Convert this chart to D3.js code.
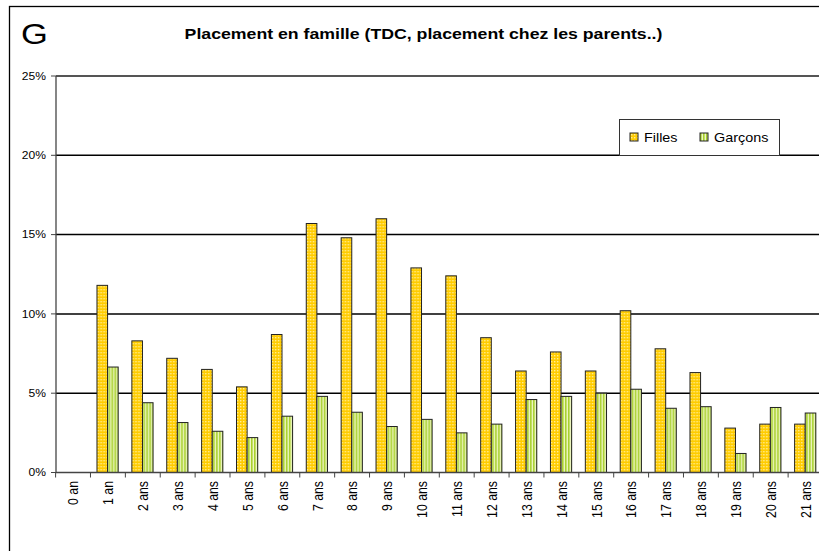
<!DOCTYPE html>
<html>
<head>
<meta charset="utf-8">
<script src="https://cdn.jsdelivr.net/npm/d3@7"></script>
<style>
  body { margin: 0; background: #fff; }
  svg { display: block; font-family: "Liberation Sans", Arial, sans-serif; }
</style>
</head>
<body>
<div id="app"></div>
<script>
// data (percent)
const categories = ['0 an', '1 an', '2 ans', '3 ans', '4 ans', '5 ans', '6 ans', '7 ans', '8 ans', '9 ans', '10 ans',
  '11 ans', '12 ans', '13 ans', '14 ans', '15 ans', '16 ans', '17 ans', '18 ans', '19 ans', '20 ans', '21 ans'];
const filles = [null, 11.8, 8.3, 7.2, 6.5, 5.4, 8.7, 15.7, 14.8, 16.0, 12.9, 12.4, 8.5, 6.4, 7.6, 6.4, 10.2, 7.8, 6.3, 2.8, 3.05, 3.05];
const garcons = [null, 6.65, 4.4, 3.15, 2.6, 2.2, 3.55, 4.8, 3.8, 2.9, 3.35, 2.5, 3.05, 4.6, 4.8, 5.0, 5.25, 4.05, 4.15, 1.2, 4.1, 3.75];
const seriesNames = ['Filles', 'Garçons'];
const yTicks = [0, 5, 10, 15, 20, 25];
const title = 'Placement en famille (TDC, placement chez les parents..)';

const W = 819, H = 551;
const SX = 1.15; // the picture is a bit stretched sideways

const svg = d3.select('#app').append('svg').attr('width', W).attr('height', H);

// patterns
const defs = svg.append('defs');
const pf = defs.append('pattern').attr('id', 'pFilles').attr('patternUnits', 'userSpaceOnUse')
  .attr('width', 3).attr('height', 3);
pf.append('rect').attr('width', 3).attr('height', 3).attr('fill', '#FFCC00');
pf.append('rect').attr('x', 1).attr('y', 1).attr('width', 1.4).attr('height', 1.4).attr('fill', '#FFEE99');

const pg = defs.append('pattern').attr('id', 'pGarcons').attr('patternUnits', 'userSpaceOnUse')
  .attr('width', 3).attr('height', 3);
pg.append('rect').attr('width', 3).attr('height', 3).attr('fill', '#EEF6C4');
pg.append('rect').attr('width', 1.6).attr('height', 3).attr('fill', '#A8D02C');

const fills = { Filles: 'url(#pFilles)', 'Garçons': 'url(#pGarcons)' };

// outer frame (runs off the picture right and bottom)
svg.append('rect').attr('x', 9.5).attr('y', 6.5).attr('width', 900).attr('height', 700)
  .attr('fill', 'none').attr('stroke', '#000').attr('stroke-width', 1.3);

// "G" marker and title
svg.append('text').attr('transform', `translate(21,44) scale(1.15,1)`)
  .attr('font-size', 30).attr('fill', '#000').text('G');

svg.append('text').attr('transform', `translate(423.5,38.5) scale(${SX},1)`)
  .attr('text-anchor', 'middle').attr('font-size', 15.4).attr('font-weight', 'bold').text(title);

// scales
const x = d3.scaleBand().domain(categories).range([55.6, 823]).padding(0);
const xs = d3.scaleBand().domain(seriesNames).range([6.5, 27.7]).padding(0);
const y = d3.scaleLinear().domain([0, 25]).range([472.5, 76]);

// gridlines
svg.append('g').selectAll('line').data(yTicks.filter((d) => d > 0)).join('line')
  .attr('x1', 56).attr('x2', W)
  .attr('y1', (d) => y(d)).attr('y2', (d) => y(d))
  .attr('stroke', (d) => (d === 25 ? '#555' : '#000'))
  .attr('stroke-width', (d) => (d === 25 ? 1.8 : 1.5));

// bars
const rows = categories.map((c, i) => ({ cat: c, Filles: filles[i], 'Garçons': garcons[i] }));
svg.append('g').selectAll('g').data(rows).join('g')
  .attr('transform', (d) => `translate(${x(d.cat)},0)`)
  .selectAll('rect')
  .data((d) => seriesNames.filter((s) => d[s] != null).map((s) => ({ s, v: d[s] })))
  .join('rect')
  .attr('x', (d) => xs(d.s))
  .attr('y', (d) => y(d.v))
  .attr('width', xs.bandwidth())
  .attr('height', (d) => y(0) - y(d.v))
  .attr('fill', (d) => fills[d.s])
  .attr('stroke', '#222')
  .attr('stroke-width', 1);

// y axis
const yAxis = svg.append('g');
yAxis.append('line').attr('x1', 56).attr('x2', 56).attr('y1', 76).attr('y2', y(0))
  .attr('stroke', '#444').attr('stroke-width', 1.3);
yAxis.selectAll('line.tick').data(yTicks).join('line').attr('class', 'tick')
  .attr('x1', 51).attr('x2', 56).attr('y1', (d) => y(d)).attr('y2', (d) => y(d))
  .attr('stroke', '#444');
yAxis.selectAll('text').data(yTicks).join('text')
  .attr('transform', (d) => `translate(46,${y(d) + 3.8}) scale(${SX},1)`)
  .attr('text-anchor', 'end').attr('font-size', 10.5).attr('fill', '#000')
  .text((d) => d + '%');

// x axis
const xAxis = svg.append('g');
xAxis.append('line').attr('x1', 56).attr('x2', W).attr('y1', y(0)).attr('y2', y(0))
  .attr('stroke', '#444').attr('stroke-width', 1.3);
xAxis.selectAll('line.tick').data(categories).join('line').attr('class', 'tick')
  .attr('x1', (d) => x(d)).attr('x2', (d) => x(d))
  .attr('y1', y(0)).attr('y2', y(0) + 5)
  .attr('stroke', '#444');
xAxis.selectAll('text').data(categories).join('text')
  .attr('transform', (d) => `translate(${x(d) + x.bandwidth() / 2 + 0.5},481) rotate(-90) scale(1,${SX})`)
  .attr('text-anchor', 'end').attr('dominant-baseline', 'central')
  .attr('font-size', 12.3).attr('fill', '#000')
  .text((d) => d);

// legend
const legend = svg.append('g');
legend.append('rect').attr('x', 619.5).attr('y', 119.5).attr('width', 160).attr('height', 36)
  .attr('fill', '#fff').attr('stroke', '#333').attr('stroke-width', 1);
const lx = { Filles: 630, 'Garçons': 700 };
const items = legend.selectAll('g').data(seriesNames).join('g')
  .attr('transform', (d) => `translate(${lx[d]},133)`);
items.append('rect').attr('width', 8).attr('height', 8)
  .attr('fill', (d) => fills[d]).attr('stroke', '#222');
items.append('text').attr('transform', `translate(14,8.5) scale(${SX},1)`)
  .attr('font-size', 12.5).attr('fill', '#000').text((d) => d);
</script>
</body>
</html>
